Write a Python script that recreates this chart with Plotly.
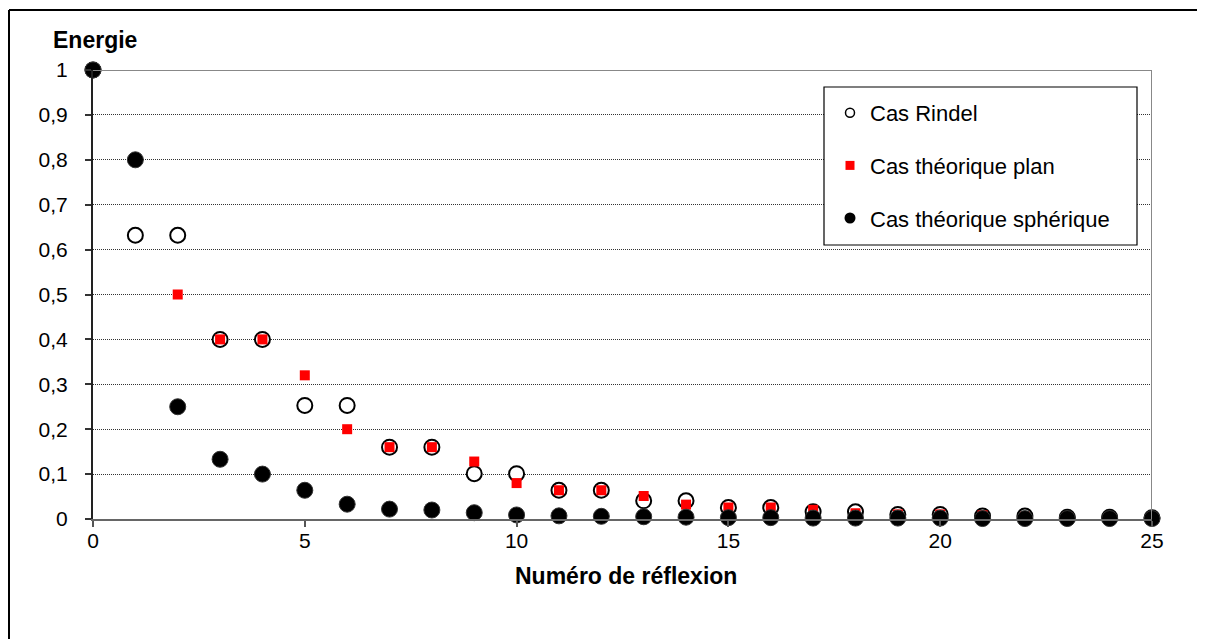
import plotly.graph_objects as go

# ---- data ----
reflexion = list(range(0, 26))
rindel = [1.0, 0.632, 0.632, 0.4, 0.4, 0.253, 0.253, 0.16, 0.16, 0.101, 0.101,
          0.064, 0.064, 0.0405, 0.0405, 0.0256, 0.0256, 0.0162, 0.0162, 0.0102,
          0.0102, 0.0066, 0.0066, 0.0041, 0.0041, 0.0026]
plan = [1.0, 0.8, 0.5, 0.4, 0.4, 0.32, 0.2, 0.16, 0.16, 0.128, 0.08,
        0.064, 0.064, 0.0512, 0.032, 0.0256, 0.0256, 0.0205, 0.0128, 0.0102,
        0.0102, 0.0082, 0.0051, 0.0041, 0.0041, 0.0033]
spherique = [1.0, 0.8, 0.25, 0.133, 0.1, 0.064, 0.033, 0.022, 0.02, 0.014, 0.009,
             0.007, 0.006, 0.005, 0.004, 0.003, 0.003, 0.002, 0.002, 0.002,
             0.002, 0.001, 0.001, 0.001, 0.001, 0.001]
y_ticks = [0, 0.1, 0.2, 0.3, 0.4, 0.5, 0.6, 0.7, 0.8, 0.9, 1]
x_ticks = [0, 5, 10, 15, 20, 25]
names = ["Cas Rindel", "Cas théorique plan", "Cas théorique sphérique"]

FONT = "Liberation Sans, Arial, sans-serif"

fig = go.Figure()

# plotted series (no legend)
fig.add_trace(go.Scatter(x=reflexion, y=rindel, mode="markers", showlegend=False,
                         cliponaxis=False,
                         marker=dict(symbol="circle", size=15, color="white",
                                     line=dict(color="black", width=2))))
fig.add_trace(go.Scatter(x=reflexion, y=plan, mode="markers", showlegend=False,
                         cliponaxis=False,
                         marker=dict(symbol="square", size=10, color="#FF0000",
                                     line=dict(width=0))))
fig.add_trace(go.Scatter(x=reflexion, y=spherique, mode="markers", showlegend=False,
                         cliponaxis=False,
                         marker=dict(symbol="circle", size=16, color="black",
                                     line=dict(color="#333333", width=1))))

# legend-only entries with smaller symbols
fig.add_trace(go.Scatter(x=[None], y=[None], mode="markers", name=names[0],
                         legendgroup="a",
                         marker=dict(symbol="circle", size=9, color="white",
                                     line=dict(color="black", width=1.5))))
fig.add_trace(go.Scatter(x=[None], y=[None], mode="markers", name=names[1],
                         legendgroup="b",
                         marker=dict(symbol="square", size=9, color="#FF0000",
                                     line=dict(width=0))))
fig.add_trace(go.Scatter(x=[None], y=[None], mode="markers", name=names[2],
                         legendgroup="c",
                         marker=dict(symbol="circle", size=11, color="black",
                                     line=dict(width=0))))

# page body has an 8px margin: figure origin sits at (8, 8) in the window
OFF = 8
PL, PR, PT, PB = 93, 1152, 70, 519   # plot area in window pixels
W, H = 1205 - OFF, 639 - OFF
L, T = PL - OFF, PT - OFF
R, B = W - (PR - OFF), H - (PB - OFF)
pw, ph = PR - PL, PB - PT


def px_x(p):
    return (p - PL) / pw


def px_y(p):
    return (PB - p) / ph


fig.update_layout(
    width=W, height=H,
    margin=dict(l=L, r=R, t=T, b=B, autoexpand=False),
    paper_bgcolor="white", plot_bgcolor="white",
    separators=", ",
    font=dict(family=FONT, size=21, color="black"),
    showlegend=True,
    legend=dict(x=px_x(830), y=px_y(92), xanchor="left", yanchor="top",
                bgcolor="rgba(0,0,0,0)", borderwidth=0,
                font=dict(family=FONT, size=22, color="black"),
                traceorder="grouped", tracegroupgap=21,
                itemsizing="trace"),
    xaxis=dict(range=[0, 25], tickvals=x_ticks, ticks="outside", ticklen=6,
               tickcolor="#555555", tickwidth=2, showgrid=False, zeroline=False,
               showline=True, linecolor="#666666", linewidth=2,
               ticklabelstandoff=-4,
               tickfont=dict(family=FONT, size=21, color="black")),
    yaxis=dict(range=[0, 1], tickvals=y_ticks, ticks="outside", ticklen=6,
               tickcolor="#333333", tickwidth=1.5, showgrid=True,
               gridcolor="#333333", gridwidth=1, griddash="1px,1px",
               zeroline=False, showline=True, linecolor="#222222", linewidth=2,
               ticklabelstandoff=13,
               tickfont=dict(family=FONT, size=21, color="black")),
)

shapes = []
# plot area border: top and right (grey)
shapes.append(dict(type="line", xref="x", yref="y", x0=0, x1=25, y0=1, y1=1,
                   line=dict(color="#888888", width=2), layer="above"))
shapes.append(dict(type="line", xref="x", yref="y", x0=25, x1=25, y0=0, y1=1,
                   line=dict(color="#888888", width=2), layer="above"))
# legend box
shapes.append(dict(type="rect", xref="paper", yref="paper",
                   x0=px_x(824), x1=px_x(1137), y0=px_y(245), y1=px_y(87),
                   fillcolor="white", line=dict(color="black", width=1.2),
                   layer="above"))
# outer chart border (left & top visible)
shapes.append(dict(type="line", xref="paper", yref="paper",
                   x0=px_x(9), x1=px_x(9), y0=px_y(10), y1=px_y(650),
                   line=dict(color="black", width=2)))
shapes.append(dict(type="line", xref="paper", yref="paper",
                   x0=px_x(9), x1=px_x(1220), y0=px_y(10), y1=px_y(10),
                   line=dict(color="black", width=2)))
fig.update_layout(shapes=shapes)

fig.add_annotation(text="<b>Energie</b>", xref="paper", yref="paper",
                   x=px_x(95), y=px_y(40), xanchor="center", yanchor="middle",
                   showarrow=False, font=dict(family=FONT, size=23, color="black"))
fig.add_annotation(text="<b>Numéro de réflexion</b>", xref="paper", yref="paper",
                   x=px_x(626), y=px_y(576), xanchor="center", yanchor="middle",
                   showarrow=False, font=dict(family=FONT, size=23, color="black"))

fig.write_html("out.html")
